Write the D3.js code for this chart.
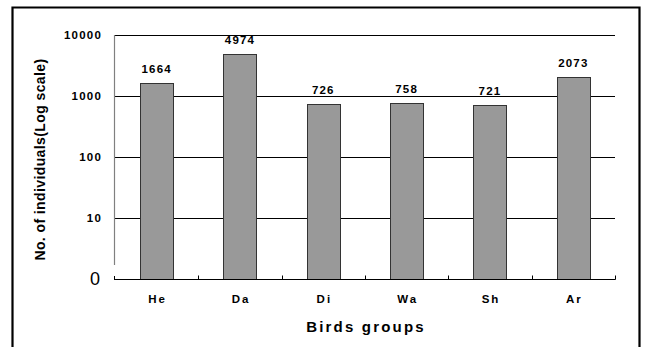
<!DOCTYPE html>
<html>
<head>
<meta charset="utf-8">
<script src="https://cdn.jsdelivr.net/npm/d3@7"></script>
<style>
  html, body { margin: 0; padding: 0; background: #fff; }
  svg { display: block; }
  text { font-family: Arial, "Liberation Sans", sans-serif; fill: #000; }
</style>
</head>
<body>
<svg id="chart" width="645" height="347"></svg>
<script>
// Bird counts per group (log-scale bar chart)
const groups = ["He", "Da", "Di", "Wa", "Sh", "Ar"];
const counts = [1664, 4974, 726, 758, 721, 2073];
const yTicks = [10, 100, 1000, 10000];
const yTickLabels = ["10", "100", "1000", "10000"];
const yBaseLabel = "0";
const xTitle = "Birds groups";
const yTitle = "No. of individuals(Log scale)";

const svg = d3.select("#chart");
const plot = { left: 115, right: 615, top: 35, bottom: 279 };

const x = d3.scaleBand()
  .domain(groups)
  .range([plot.left, plot.right])
  .paddingInner(0.6)
  .paddingOuter(0.3);

const y = d3.scaleLog()
  .domain([1, 10000])
  .range([plot.bottom, plot.top]);

// outer frame (open at the bottom)
svg.append("path")
  .attr("d", `M12.5,347 V7.5 H639.5 V347`)
  .attr("fill", "none")
  .attr("stroke", "#000")
  .attr("stroke-width", 2.2);

// horizontal gridlines at each decade
svg.append("g")
  .selectAll("line")
  .data(yTicks)
  .join("line")
  .attr("x1", plot.left)
  .attr("x2", plot.right)
  .attr("y1", d => Math.round(y(d)) + 0.5)
  .attr("y2", d => Math.round(y(d)) + 0.5)
  .attr("stroke", "#000")
  .attr("stroke-width", 1);

// left axis line
svg.append("line")
  .attr("x1", plot.left - 0.5).attr("x2", plot.left - 0.5)
  .attr("y1", plot.top).attr("y2", plot.bottom - 14)
  .attr("stroke", "#808080").attr("stroke-width", 1.2);
svg.append("line")
  .attr("x1", plot.left - 0.5).attr("x2", plot.left - 0.5)
  .attr("y1", plot.bottom - 3).attr("y2", plot.bottom + 0.5)
  .attr("stroke", "#000").attr("stroke-width", 1);

// y tick labels
svg.append("g")
  .selectAll("text")
  .data(yTicks)
  .join("text")
  .attr("x", 102)
  .attr("y", d => y(d))
  .attr("dy", "0.36em")
  .attr("text-anchor", "end")
  .attr("font-size", 11.5)
  .attr("font-weight", "bold")
  .attr("letter-spacing", 1.2)
  .text((d, i) => yTickLabels[i]);

svg.append("text")
  .attr("x", 95)
  .attr("y", y(1))
  .attr("dy", "0.33em")
  .attr("text-anchor", "middle")
  .attr("font-family", "'Times New Roman', 'Liberation Serif', serif")
  .attr("font-size", 18)
  .text(yBaseLabel);

// bars
svg.append("g")
  .selectAll("rect")
  .data(counts)
  .join("rect")
  .attr("x", (d, i) => Math.round(x(groups[i])) + 0.5)
  .attr("y", d => Math.round(y(d)) + 0.5)
  .attr("width", Math.round(x.bandwidth()))
  .attr("height", d => Math.round(y(1)) - Math.round(y(d)))
  .attr("fill", "#999999")
  .attr("stroke", "#333333")
  .attr("stroke-width", 1);

// value labels above bars
svg.append("g")
  .selectAll("text")
  .data(counts)
  .join("text")
  .attr("x", (d, i) => x(groups[i]) + x.bandwidth() / 2)
  .attr("y", d => y(d) - 10)
  .attr("text-anchor", "middle")
  .attr("font-size", 11.5)
  .attr("font-weight", "bold")
  .attr("letter-spacing", 1.2)
  .text(d => d);

// x axis baseline and inward category ticks
svg.append("line")
  .attr("x1", plot.left - 1).attr("x2", plot.right + 0.5)
  .attr("y1", plot.bottom + 0.5).attr("y2", plot.bottom + 0.5)
  .attr("stroke", "#000").attr("stroke-width", 1.2);

const step = x.step();
const boundaries = d3.range(1, groups.length + 1).map(i => plot.left + i * step);
svg.append("g")
  .selectAll("line")
  .data(boundaries)
  .join("line")
  .attr("x1", d => Math.round(d) + 0.5)
  .attr("x2", d => Math.round(d) + 0.5)
  .attr("y1", plot.bottom - 3.5)
  .attr("y2", plot.bottom + 0.5)
  .attr("stroke", "#000");

// category labels
svg.append("g")
  .selectAll("text")
  .data(groups)
  .join("text")
  .attr("x", d => x(d) + x.bandwidth() / 2 + 1)
  .attr("y", 302.5)
  .attr("text-anchor", "middle")
  .attr("font-size", 11.5)
  .attr("font-weight", "bold")
  .attr("letter-spacing", 2)
  .text(d => d);

// axis titles
svg.append("text")
  .attr("x", (plot.left + plot.right) / 2 + 1)
  .attr("y", 332)
  .attr("text-anchor", "middle")
  .attr("font-size", 15)
  .attr("font-weight", "bold")
  .attr("letter-spacing", 2.2)
  .text(xTitle);

svg.append("text")
  .attr("transform", "translate(45,159.5) rotate(-90)")
  .attr("text-anchor", "middle")
  .attr("font-size", 14)
  .attr("font-weight", "bold")
  .attr("letter-spacing", 0.4)
  .text(yTitle);
</script>
</body>
</html>
